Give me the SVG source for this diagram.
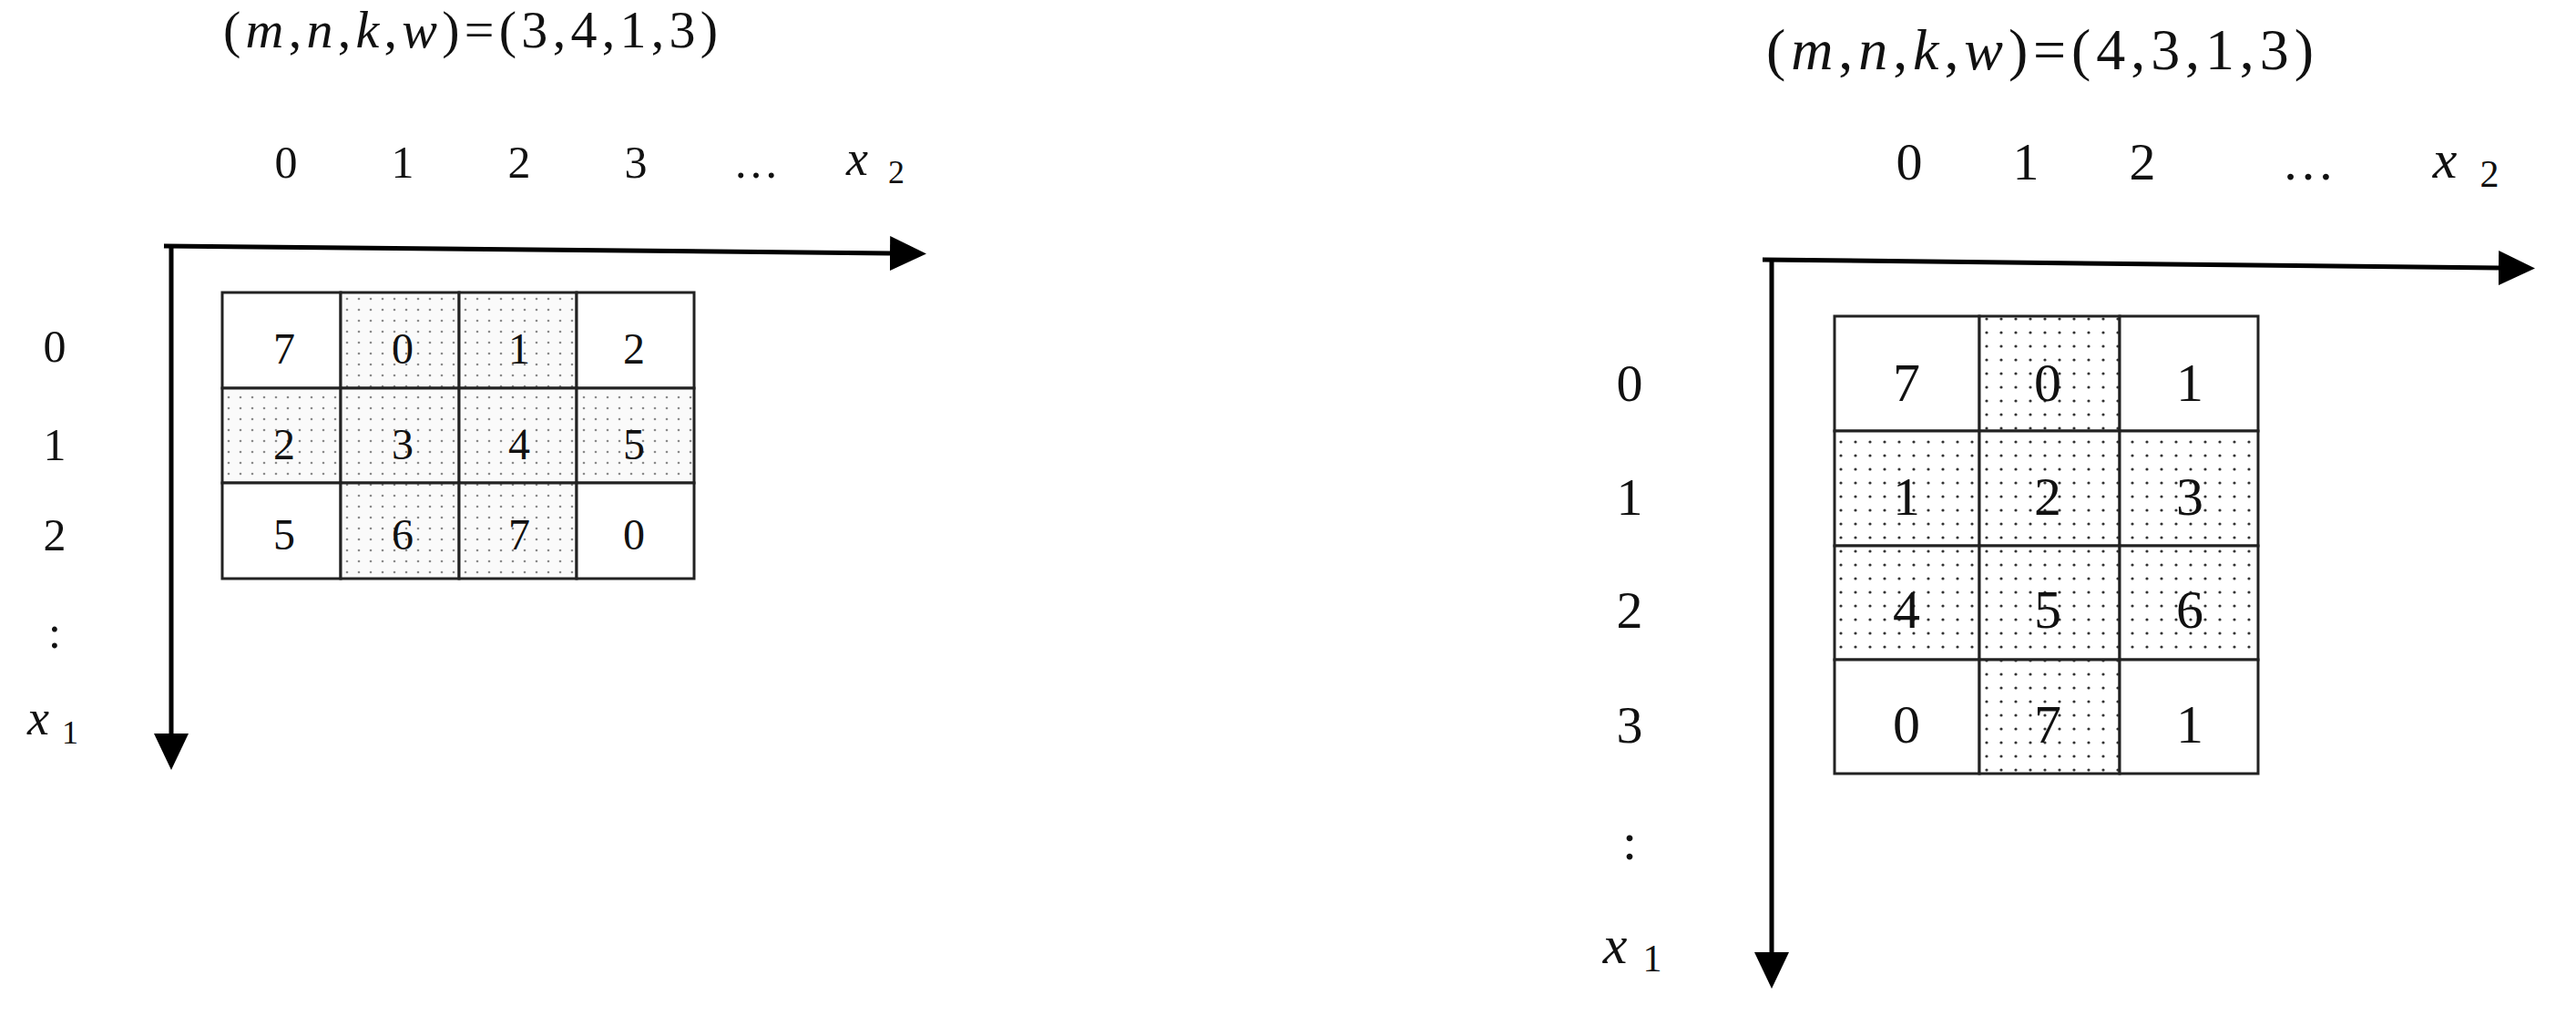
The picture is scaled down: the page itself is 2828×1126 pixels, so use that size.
<svg xmlns="http://www.w3.org/2000/svg" width="2828" height="1126" viewBox="0 0 2828 1126">
<style>
text{font-family:"Liberation Serif","Times New Roman",serif;fill:#111;}
.it{font-style:italic;}
.t1{font-size:58px;}
.t2{font-size:64px;}
.lblL{font-size:50px;text-anchor:middle;}
.lblR{font-size:58px;text-anchor:middle;}
.numL{font-size:48px;text-anchor:middle;}
.numR{font-size:60px;text-anchor:middle;}
.cell{stroke:#222;stroke-width:3;}
.w{fill:#fff;}
.dL{fill:url(#dotsL);}
.dR{fill:url(#dotsR);}
.axis{stroke:#000;stroke-width:5;fill:none;marker-end:url(#arr);}
</style>
<defs>
<pattern id="dotsL" width="13" height="12" patternUnits="userSpaceOnUse">
<rect width="13" height="12" fill="#fafafa"/>
<circle cx="4" cy="4" r="1.3" fill="#8a8a8a"/>
</pattern>
<pattern id="dotsR" width="16" height="15" patternUnits="userSpaceOnUse">
<rect width="16" height="15" fill="#fff"/>
<circle cx="5" cy="5" r="1.6" fill="#333"/>
</pattern>
<marker id="arr" markerUnits="userSpaceOnUse" markerWidth="40" markerHeight="40" refX="0" refY="20" viewBox="0 0 40 40" orient="auto">
<path d="M0,1 L40,20 L0,39 z" fill="#000"/>
</marker>
</defs>
<rect width="2828" height="1126" fill="#fff"/>

<g id="connectors">
<line class="axis" x1="180" y1="270" x2="977" y2="278"/>
<line class="axis" x1="188" y1="268" x2="188" y2="805"/>
<line class="axis" x1="1935" y1="285" x2="2743" y2="294"/>
<line class="axis" x1="1945" y1="283" x2="1945" y2="1045"/>
</g>

<g id="panel-left">
<text id="title-left" class="t1" x="245" y="52" textLength="543"><tspan>(</tspan><tspan class="it">m</tspan>,<tspan class="it">n</tspan>,<tspan class="it">k</tspan>,<tspan class="it">w</tspan>)=(3,4,1,3)</text>
<g id="cols-left" class="lblL">
<text x="314" y="195">0</text>
<text x="442" y="195">1</text>
<text x="570" y="195">2</text>
<text x="698" y="195">3</text>
<text x="830" y="195">…</text>
<text x="941" y="192" class="it" style="font-size:54px">x</text>
<text x="984" y="201" style="font-size:36px">2</text>
</g>
<g id="rows-left" class="lblL">
<text x="60" y="397">0</text>
<text x="60" y="505">1</text>
<text x="60" y="604">2</text>
<text x="60" y="711">:</text>
<text x="42" y="806" class="it" style="font-size:54px">x</text>
<text x="77" y="816" style="font-size:36px">1</text>
</g>
<g id="grid-left">
<g id="L00"><rect class="cell w" x="244" y="321" width="130" height="105"/><text class="numL" x="312" y="399">7</text></g>
<g id="L01"><rect class="cell dL" x="374" y="321" width="130" height="105"/><text class="numL" x="442" y="399">0</text></g>
<g id="L02"><rect class="cell dL" x="504" y="321" width="129" height="105"/><text class="numL" x="570" y="399">1</text></g>
<g id="L03"><rect class="cell w" x="633" y="321" width="129" height="105"/><text class="numL" x="696" y="399">2</text></g>
<g id="L10"><rect class="cell dL" x="244" y="426" width="130" height="104"/><text class="numL" x="312" y="504">2</text></g>
<g id="L11"><rect class="cell dL" x="374" y="426" width="130" height="104"/><text class="numL" x="442" y="504">3</text></g>
<g id="L12"><rect class="cell dL" x="504" y="426" width="129" height="104"/><text class="numL" x="570" y="504">4</text></g>
<g id="L13"><rect class="cell dL" x="633" y="426" width="129" height="104"/><text class="numL" x="696" y="504">5</text></g>
<g id="L20"><rect class="cell w" x="244" y="530" width="130" height="105"/><text class="numL" x="312" y="603">5</text></g>
<g id="L21"><rect class="cell dL" x="374" y="530" width="130" height="105"/><text class="numL" x="442" y="603">6</text></g>
<g id="L22"><rect class="cell dL" x="504" y="530" width="129" height="105"/><text class="numL" x="570" y="603">7</text></g>
<g id="L23"><rect class="cell w" x="633" y="530" width="129" height="105"/><text class="numL" x="696" y="603">0</text></g>
</g>
</g>

<g id="panel-right">
<text id="title-right" class="t2" x="1939" y="76" textLength="601"><tspan>(</tspan><tspan class="it">m</tspan>,<tspan class="it">n</tspan>,<tspan class="it">k</tspan>,<tspan class="it">w</tspan>)=(4,3,1,3)</text>
<g id="cols-right" class="lblR">
<text x="2096" y="197">0</text>
<text x="2224" y="197">1</text>
<text x="2352" y="197">2</text>
<text x="2534" y="197">…</text>
<text x="2684" y="195" class="it" style="font-size:60px">x</text>
<text x="2733" y="205" style="font-size:42px">2</text>
</g>
<g id="rows-right" class="lblR">
<text x="1789" y="440">0</text>
<text x="1789" y="565">1</text>
<text x="1789" y="689">2</text>
<text x="1789" y="815">3</text>
<text x="1789" y="943">:</text>
<text x="1773" y="1057" class="it" style="font-size:60px">x</text>
<text x="1814" y="1066" style="font-size:42px">1</text>
</g>
<g id="grid-right">
<g id="R00"><rect class="cell w" x="2014" y="347" width="159" height="126"/><text class="numR" x="2093" y="440">7</text></g>
<g id="R01"><rect class="cell dR" x="2173" y="347" width="154" height="126"/><text class="numR" x="2248" y="440">0</text></g>
<g id="R02"><rect class="cell w" x="2327" y="347" width="152" height="126"/><text class="numR" x="2404" y="440">1</text></g>
<g id="R10"><rect class="cell dR" x="2014" y="473" width="159" height="126"/><text class="numR" x="2093" y="565">1</text></g>
<g id="R11"><rect class="cell dR" x="2173" y="473" width="154" height="126"/><text class="numR" x="2248" y="565">2</text></g>
<g id="R12"><rect class="cell dR" x="2327" y="473" width="152" height="126"/><text class="numR" x="2404" y="565">3</text></g>
<g id="R20"><rect class="cell dR" x="2014" y="599" width="159" height="125"/><text class="numR" x="2093" y="689">4</text></g>
<g id="R21"><rect class="cell dR" x="2173" y="599" width="154" height="125"/><text class="numR" x="2248" y="689">5</text></g>
<g id="R22"><rect class="cell dR" x="2327" y="599" width="152" height="125"/><text class="numR" x="2404" y="689">6</text></g>
<g id="R30"><rect class="cell w" x="2014" y="724" width="159" height="125"/><text class="numR" x="2093" y="815">0</text></g>
<g id="R31"><rect class="cell dR" x="2173" y="724" width="154" height="125"/><text class="numR" x="2248" y="815">7</text></g>
<g id="R32"><rect class="cell w" x="2327" y="724" width="152" height="125"/><text class="numR" x="2404" y="815">1</text></g>
</g>
</g>
</svg>
